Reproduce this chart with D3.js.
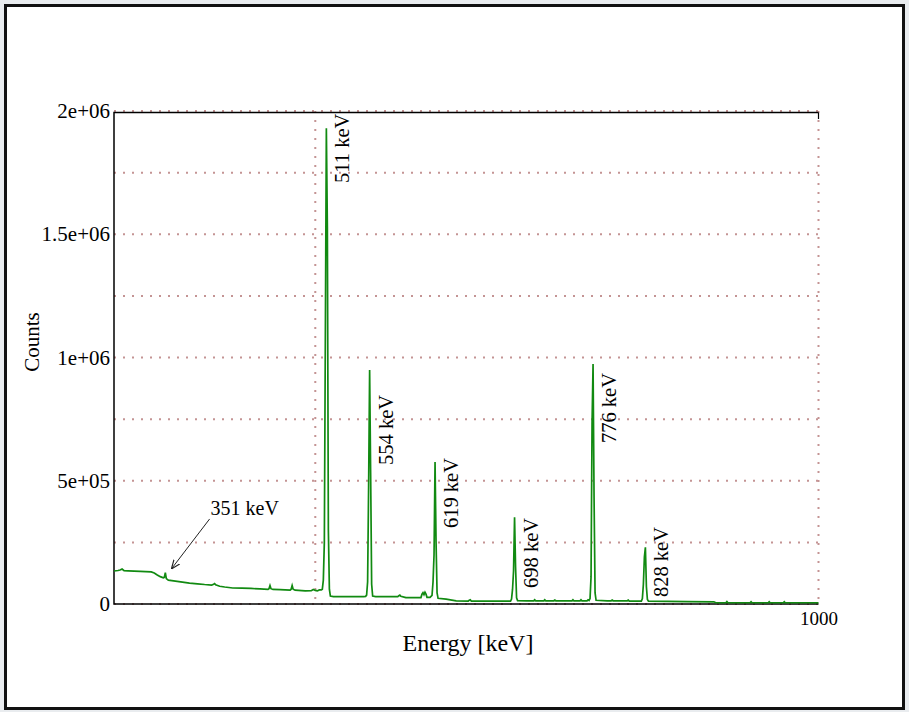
<!DOCTYPE html>
<html>
<head>
<meta charset="utf-8">
<script src="https://cdn.jsdelivr.net/npm/d3@7"></script>
<style>
  html, body { margin: 0; padding: 0; background: #e9ecef; }
  svg { display: block; }
  text { font-family: "Liberation Serif", "DejaVu Serif", serif; fill: #000; }
</style>
</head>
<body>
<svg id="chart" width="909" height="712"></svg>
<script>
// Gamma-ray spectrum: energy channel (keV) and counts
const energy = [
  300, 304, 306, 308, 310, 314, 326, 337, 340, 343, 346, 349, 350, 351, 352, 354,
  361, 368, 375, 383, 390, 397, 399, 400, 401, 405, 410, 418, 427, 436, 445, 453,
  454, 455, 456, 458, 465, 470, 475, 476, 477, 478, 480, 490, 496, 498, 500, 502,
  504, 506, 507, 508, 509, 511, 512, 513, 514, 515, 518, 530, 540, 548, 550, 551,
  552, 553, 554, 555, 556, 557, 560, 575, 582, 583, 584, 585, 590, 600, 605, 606,
  607, 608, 609, 610, 611, 614, 616, 617, 618, 619, 620, 621, 622, 630, 640, 652,
  653, 654, 655, 670, 680, 694, 695, 696, 697, 698, 699, 700, 701, 710, 717, 718,
  719, 727, 728, 729, 737, 738, 739, 755, 756, 757, 763, 764, 765, 770, 771, 772,
  773, 774, 775, 776, 777, 778, 779, 790, 794, 795, 796, 810, 811, 812, 824, 825,
  826, 827, 828, 829, 830, 831, 850, 870, 896, 898, 908, 909, 910, 932, 933, 934,
  950, 951, 952, 965, 966, 967, 980, 1000
];
const counts = [
  134000, 136000, 138000, 142000, 135000, 134000, 132000, 130000, 126000, 118000, 111000, 106000, 108000, 127000, 103000, 97000,
  93000, 89000, 85000, 82000, 79000, 77000, 80000, 83000, 78000, 72000, 69000, 65000, 64000, 63000, 61000, 59000,
  62000, 75000, 62000, 59000, 58000, 57000, 56000, 60000, 75000, 60000, 56000, 53000, 54000, 59000, 55000, 53000,
  57000, 57000, 60000, 97000, 250000, 1930000, 1530000, 300000, 60000, 32000, 30000, 30000, 30000, 30000, 31000, 36000,
  90000, 480000, 949000, 530000, 80000, 32000, 30000, 30000, 30000, 34000, 36000, 31000, 26000, 25500, 26000, 40000,
  46000, 38000, 48000, 40000, 27000, 27000, 35000, 90000, 200000, 576000, 250000, 45000, 23000, 20000, 13000, 12000,
  15000, 17000, 12000, 12000, 12000, 12000, 20000, 60000, 135000, 352000, 150000, 25000, 14000, 13000, 13000, 17000,
  13000, 13000, 17000, 13000, 13000, 16000, 13000, 13000, 17000, 13000, 13000, 17000, 13000, 13000, 17000, 14000,
  22000, 110000, 730000, 974000, 430000, 45000, 15000, 13000, 13000, 16000, 13000, 13000, 16000, 12000, 12000, 22000,
  80000, 190000, 230000, 70000, 18000, 12000, 11000, 10000, 9000, 5000, 5000, 10000, 5000, 5000, 9000, 5000,
  5000, 9000, 5000, 5000, 9000, 5000, 5000, 5000
];

// Axis ticks
const yTicks = [0, 250000, 500000, 750000, 1000000, 1250000, 1500000, 1750000, 2000000];
const yTickLabels = ["0", "", "5e+05", "", "1e+06", "", "1.5e+06", "", "2e+06"];
const xTicks = [500, 1000];
const xTickLabels = ["", "1000"];

// Photopeak annotations: energy of the peak and the count level where the label starts
const peakEnergy = [511, 554, 619, 698, 776, 828];
const peakLabel = ["511 keV", "554 keV", "619 keV", "698 keV", "776 keV", "828 keV"];
const peakLabelStart = [1708000, 564000, 308000, 65000, 653000, 28000];

// Arrow annotation for the weak 351 keV line (from, to) in data units
const arrowFrom = [395, 345000];
const arrowTo = [357, 142000];
const arrowLabel = { text: "351 keV", energy: 396, count: 361000 };

const svg = d3.select("#chart");
const W = 909, H = 712;

// outer frame
svg.append("rect").attr("x", 4).attr("y", 4).attr("width", W - 8).attr("height", H - 8)
  .attr("fill", "#fff");
svg.append("rect").attr("x", 5.5).attr("y", 5.5).attr("width", W - 11).attr("height", H - 9)
  .attr("fill", "none").attr("stroke", "#111").attr("stroke-width", 3);

const plot = { left: 114, right: 818.5, top: 111, bottom: 604 };
const x = d3.scaleLinear().domain([300, 1000]).range([plot.left, plot.right]);
const y = d3.scaleLinear().domain([0, 2000000]).range([plot.bottom, plot.top]);

const gridColor = "#c49494";

// dotted grid
const grid = svg.append("g");
grid.selectAll("line.h").data(yTicks).join("line")
  .attr("x1", plot.left).attr("x2", plot.right)
  .attr("y1", d => y(d)).attr("y2", d => y(d))
  .attr("stroke", gridColor).attr("stroke-width", 2)
  .attr("stroke-dasharray", "2 7");
grid.selectAll("line.v").data(xTicks).join("line")
  .attr("x1", d => x(d)).attr("x2", d => x(d))
  .attr("y1", plot.top).attr("y2", plot.bottom)
  .attr("stroke", gridColor).attr("stroke-width", 2)
  .attr("stroke-dasharray", "2 7");

// frame: left, top and bottom edges
svg.append("path")
  .attr("d", `M${plot.right},${plot.top + 1.5}H${plot.left}V${plot.bottom}H${plot.right}`)
  .attr("fill", "none").attr("stroke", "#000").attr("stroke-width", 1.5);
svg.append("line")
  .attr("x1", plot.right).attr("x2", plot.right)
  .attr("y1", plot.top + 1.5).attr("y2", plot.top + 8)
  .attr("stroke", "#000").attr("stroke-width", 1.2);

// axes labels via d3 axes (no tick lines, no domain)
const yAxis = d3.axisLeft(y).tickValues(yTicks)
  .tickFormat((d, i) => yTickLabels[i]).tickSize(0).tickPadding(3);
const gy = svg.append("g").attr("transform", `translate(${plot.left - 1},0)`).call(yAxis);
gy.select(".domain").remove();
gy.selectAll("text").style("font-family", '"Liberation Serif", serif').style("font-size", "21px").attr("fill", "#000");

const xAxis = d3.axisBottom(x).tickValues(xTicks)
  .tickFormat((d, i) => xTickLabels[i]).tickSize(0).tickPadding(8);
const gx = svg.append("g").attr("transform", `translate(0,${plot.bottom})`).call(xAxis);
gx.select(".domain").remove();
gx.selectAll("text").style("font-family", '"Liberation Serif", serif').style("font-size", "19px").attr("fill", "#000");

// axis titles
svg.append("text").attr("x", 468).attr("y", 651).attr("text-anchor", "middle")
  .style("font-size", "24px").text("Energy [keV]");
svg.append("text").attr("transform", "translate(39,342) rotate(-90)").attr("text-anchor", "middle")
  .style("font-size", "21px").text("Counts");

// spectrum
const spectrum = energy.map((e, i) => [e, counts[i]]);
const line = d3.line().x(d => x(d[0])).y(d => y(d[1]));
svg.append("path").datum(spectrum)
  .attr("d", line)
  .attr("fill", "none").attr("stroke", "#118a11").attr("stroke-width", 1.7)
  .attr("stroke-linejoin", "miter");

// peak labels
svg.selectAll("text.peak").data(peakEnergy).join("text")
  .attr("class", "peak")
  .attr("transform", (d, i) => `translate(${x(d) + 23},${y(peakLabelStart[i])}) rotate(-90)`)
  .style("font-size", "20.5px")
  .text((d, i) => peakLabel[i]);

// 351 keV arrow
svg.append("defs").append("marker")
  .attr("id", "arrowhead").attr("viewBox", "0 0 10 10")
  .attr("refX", 10).attr("refY", 5).attr("markerWidth", 9).attr("markerHeight", 9)
  .attr("markerUnits", "userSpaceOnUse").attr("orient", "auto")
  .append("path").attr("d", "M0,1L10,5L0,9").attr("fill", "none")
  .attr("stroke", "#222").attr("stroke-width", 1.3);
svg.append("line")
  .attr("x1", x(arrowFrom[0])).attr("y1", y(arrowFrom[1]))
  .attr("x2", x(arrowTo[0])).attr("y2", y(arrowTo[1]))
  .attr("stroke", "#222").attr("stroke-width", 1)
  .attr("marker-end", "url(#arrowhead)");
svg.append("text").attr("x", x(arrowLabel.energy)).attr("y", y(arrowLabel.count))
  .style("font-size", "20px").text(arrowLabel.text);
</script>
</body>
</html>
